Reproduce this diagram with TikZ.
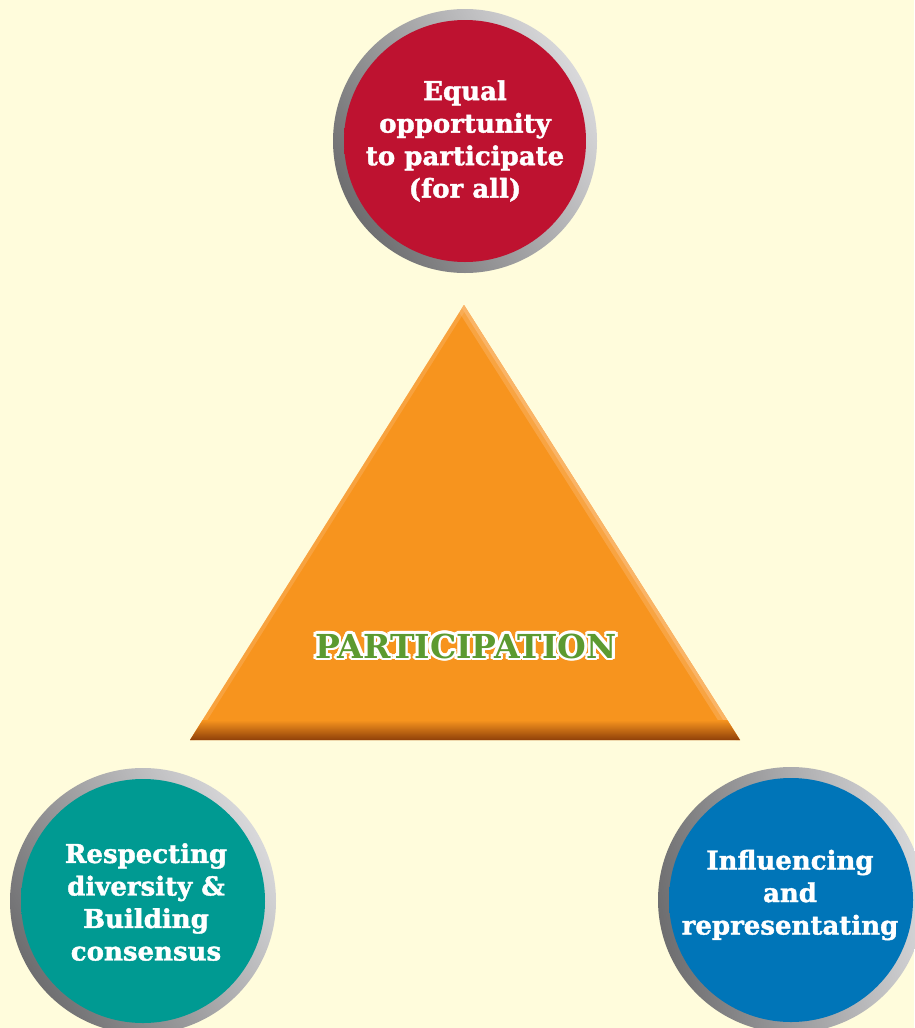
\documentclass[tikz,border=0pt]{standalone}
\usepackage{fontspec}
\setmainfont{DejaVu Serif}
\newfontfamily\circfont[FakeBold=1.5]{DejaVu Serif}
\usetikzlibrary{calc}
\definecolor{bg}{HTML}{FFFCDC}
\definecolor{redc}{HTML}{BE1230}
\definecolor{redd}{HTML}{7E0A1C}
\definecolor{tealc}{HTML}{009A92}
\definecolor{teald}{HTML}{00605B}
\definecolor{bluec}{HTML}{0075B8}
\definecolor{blued}{HTML}{004A7A}
\definecolor{orangec}{HTML}{F7941E}
\definecolor{orangel}{HTML}{FBB870}
\definecolor{brownd}{HTML}{8A3C08}
\definecolor{greent}{HTML}{5C9A30}
\definecolor{ringd}{HTML}{6E6E70}
\definecolor{ringl}{HTML}{D8D8DA}
\pgfdeclareradialshading{redshade}{\pgfpoint{0bp}{0bp}}{color(0bp)=(redc); color(32bp)=(redc); color(50bp)=(redd); color(100bp)=(redd)}
\pgfdeclareradialshading{tealshade}{\pgfpoint{0bp}{0bp}}{color(0bp)=(tealc); color(32bp)=(tealc); color(50bp)=(teald); color(100bp)=(teald)}
\pgfdeclareradialshading{blueshade}{\pgfpoint{0bp}{0bp}}{color(0bp)=(bluec); color(32bp)=(bluec); color(50bp)=(blued); color(100bp)=(blued)}
\tikzset{
  circtext/.style={text=white, align=center, font=\circfont\bfseries\fontsize{26}{32.5}\selectfont, inner sep=0pt},
  parttext/.style={font=\bfseries\fontsize{33}{38}\selectfont, inner sep=0pt},
  ring/.style={shading=axis, left color=ringd, right color=ringl, shading angle=120},
}
\begin{document}
\begin{tikzpicture}[x=1pt,y=-1pt]
\fill[bg] (0,0) rectangle (914,1028);
\useasboundingbox (0,0) rectangle (914,1028);
% centres
\coordinate (ctop) at (465,141);
\coordinate (cleft) at (143,901);
\coordinate (cright) at (791,900);
% rings and discs
\shade[ring] (ctop) circle (132);
\shade[shading=redshade] (ctop) circle (121);
\shade[ring] (cleft) circle (133);
\shade[shading=tealshade] (cleft) circle (122);
\shade[ring, shading angle=100] (cright) circle (133);
\shade[shading=blueshade] (cright) circle (122);
% triangle
\coordinate (apex) at (464,305);
\coordinate (bl) at (190,740);
\coordinate (br) at (740,740);
\fill[orangec] (apex) -- (bl) -- (br) -- cycle;
\begin{scope}
  \clip (apex) -- (bl) -- (br) -- cycle;
  \draw[orangel, line width=16pt, opacity=0.45] (apex) -- (br);
  \draw[orangel, line width=7pt, opacity=0.8] (apex) -- (br);
  \draw[orangel, line width=8pt, opacity=0.4] (apex) -- (bl);
  \shade[top color=orangec, bottom color=brownd] (150,720) rectangle (780,741);
\end{scope}
% texts
\node[circtext] (ttop) at (465,141) {Equal\\opportunity\\to participate\\(for all)};
\node[circtext] (tleft) at (146,902) {Respecting\\diversity \&\\Building\\consensus};
\node[circtext] (tright) at (790,895) {Influencing\\and\\representating};
\coordinate (tp) at (466,646);
\foreach \a [count=\i] in {0,22.5,...,337.5}
  \node[parttext, text=white] (pw\i) at ($(tp)+(\a:2.7)$) {PARTICIPATION};
\node[parttext, text=greent] (part) at (tp) {PARTICIPATION};
\end{tikzpicture}
\end{document}
